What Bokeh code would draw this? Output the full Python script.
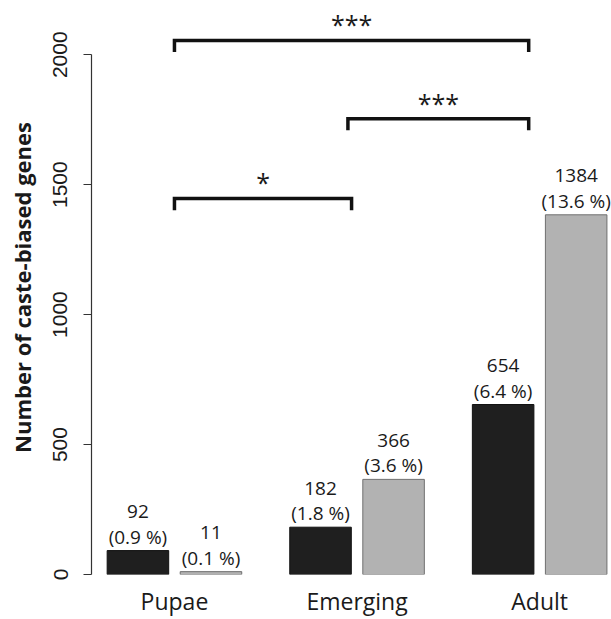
from bokeh.plotting import figure
from bokeh.models import Range1d, FixedTicker, ColumnDataSource
from bokeh.core.properties import value
from bokeh.embed import file_html
from bokeh.resources import INLINE

# ---- data ----
categories = ["Pupae", "Emerging", "Adult"]
dark_counts = [92, 182, 654]
dark_pct = ["0.9", "1.8", "6.4"]
light_counts = [11, 366, 1384]
light_pct = ["0.1", "3.6", "13.6"]
y_ticks = [0, 500, 1000, 1500, 2000]

# significance brackets (x in group-index units, y in gene counts)
sig_x0 = [0.0, 0.95, 0.0]
sig_x1 = [0.97, 1.94, 1.94]
sig_y = [1447, 1754, 2055]
sig_stars = ["*", "***", "***"]
sig_leg = 45

# ---- layout constants ----
OFF = 0.2
BW = 0.337
DARK = "#1f1f1f"
LIGHT = "#b2b2b2"
TXT = "#1a1a1a"

idx = list(range(len(categories)))

p = figure(width=611, height=619,
           x_range=Range1d(-0.4543, 2.3935), y_range=Range1d(0, 2208.6),
           output_backend="svg", toolbar_location=None,
           min_border_left=91, min_border_right=0, min_border_top=0,
           min_border_bottom=44)
p.outline_line_color = None
p.xgrid.grid_line_color = None
p.ygrid.grid_line_color = None
p.background_fill_color = "white"
p.border_fill_color = "white"

dark_src = ColumnDataSource(dict(
    x=[i - OFF for i in idx], top=dark_counts,
    n=[str(v) for v in dark_counts], pct=["(%s %%)" % s for s in dark_pct]))
light_src = ColumnDataSource(dict(
    x=[i + OFF for i in idx], top=light_counts,
    n=[str(v) for v in light_counts], pct=["(%s %%)" % s for s in light_pct]))

p.vbar(x="x", top="top", bottom=0, width=BW, source=dark_src,
       fill_color=DARK, line_color="#111111", line_width=1)
p.vbar(x="x", top="top", bottom=0, width=BW, source=light_src,
       fill_color=LIGHT, line_color="#6f6f6f", line_width=1)

for src in (dark_src, light_src):
    p.text(x="x", y="top", text="n", source=src, y_offset=-39,
           text_align="center", text_baseline="middle",
           text_font=value("Open Sans"), text_font_size="19px", text_color=TXT)
    p.text(x="x", y="top", text="pct", source=src, y_offset=-14,
           text_align="center", text_baseline="middle",
           text_font=value("Open Sans"), text_font_size="19px", text_color=TXT)

# brackets
xs, ys = [], []
for a, b, h in zip(sig_x0, sig_x1, sig_y):
    xs.append([a, a, b, b])
    ys.append([h - sig_leg, h, h, h - sig_leg])
p.multi_line(xs=xs, ys=ys, line_color="#111111", line_width=3.5,
             line_join="miter", line_cap="butt")
p.text(x=[(a + b) / 2 for a, b in zip(sig_x0, sig_x1)], y=sig_y,
       text=sig_stars, y_offset=-16, text_align="center",
       text_baseline="alphabetic", text_font=value("Open Sans"),
       text_font_size="25px", text_color=TXT)

# x axis
p.xaxis.ticker = FixedTicker(ticks=idx)
p.xaxis.major_label_overrides = {i: c for i, c in zip(idx, categories)}
p.xaxis.axis_line_color = None
p.xaxis.major_tick_line_color = None
p.xaxis.minor_tick_line_color = None
p.xaxis.major_tick_out = 0
p.xaxis.major_tick_in = 0
p.xaxis.major_label_standoff = 10
p.xaxis.major_label_text_font = "Open Sans"
p.xaxis.major_label_text_font_size = "23px"
p.xaxis.major_label_text_color = TXT

# y axis
p.yaxis.ticker = FixedTicker(ticks=y_ticks)
p.yaxis.bounds = (0, 2000)
p.yaxis.axis_line_color = "#333333"
p.yaxis.axis_line_width = 1.2
p.yaxis.major_tick_line_color = "#333333"
p.yaxis.major_tick_line_width = 1.2
p.yaxis.major_tick_out = 8
p.yaxis.major_tick_in = 0
p.yaxis.minor_tick_line_color = None
p.yaxis.major_label_orientation = "vertical"
p.yaxis.major_label_standoff = 16
p.yaxis.major_label_text_font = "Liberation Sans"
p.yaxis.major_label_text_font_size = "21px"
p.yaxis.major_label_text_color = TXT
p.yaxis.axis_label = "Number of caste-biased genes"
p.yaxis.axis_label_text_font = "Open Sans"
p.yaxis.axis_label_text_font_style = "bold"
p.yaxis.axis_label_text_font_size = "22px"
p.yaxis.axis_label_text_color = TXT
p.yaxis.axis_label_standoff = 14

open("out.html", "w").write(file_html(p, INLINE))
